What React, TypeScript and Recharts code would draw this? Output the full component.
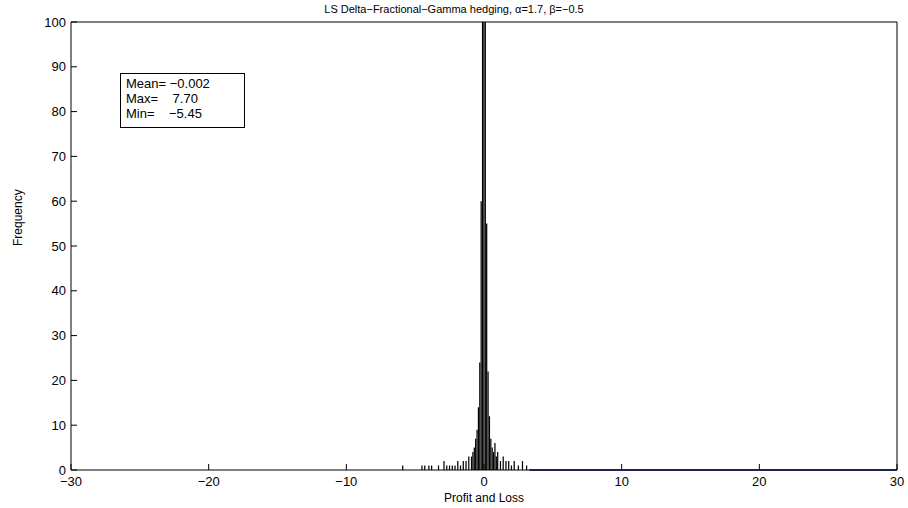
import React from "react";
import { ComposedChart, Bar, XAxis, YAxis, ReferenceLine } from "recharts";

const binCenters = [
  -5.9, -4.5, -4.3, -4.0, -3.8, -3.3, -2.9, -2.7, -2.5, -2.3, -2.1, -1.9, -1.7, -1.5, -1.3, -1.1, -0.9, -0.8,
  -0.7, -0.6, -0.5, -0.4, -0.3, -0.2, -0.1, 0.0, 0.1, 0.2, 0.3, 0.4, 0.5, 0.6, 0.7, 0.8, 0.9, 1.0, 1.2, 1.4,
  1.6, 1.8, 2.0, 2.2, 2.5, 2.8, 3.1,
];
const counts = [
  1, 1, 1, 1, 1, 1, 2, 1, 1, 1, 1, 2, 1, 2, 2, 3, 3, 4,
  5, 7, 9, 14, 24, 60, 130, 160, 120, 55, 22, 12, 7, 5, 4, 6, 3, 4, 2, 3,
  2, 2, 1, 2, 1, 2, 1,
];
const xTicks = [-30, -20, -10, 0, 10, 20, 30];
const yTicks = [0, 10, 20, 30, 40, 50, 60, 70, 80, 90, 100];

const data = binCenters.map((x, i) => ({ x, count: counts[i] }));
const font = "'Liberation Sans', Arial, sans-serif";
const tick = { fill: "#000", fontSize: 13, fontFamily: font };

export default function App() {
  return (
    <div style={{ position: "absolute", left: 0, top: 0, width: 908, height: 508, background: "#fff", fontFamily: font }}>
      <div style={{ position: "absolute", top: 3, width: 908, textAlign: "center", fontSize: 11 }}>
        LS Delta−Fractional−Gamma hedging, α=1.7, β=−0.5
      </div>
      <ComposedChart width={908} height={508} data={data} margin={{ top: 21, right: 10, bottom: 0, left: 0 }}>
        <XAxis
          xAxisId="b" type="number" dataKey="x" domain={[-30, 30]} ticks={xTicks}
          tickFormatter={(v) => String(v).replace("-", "−")}
          stroke="#000" tickSize={-6} tickMargin={13} tick={tick} height={38}
          label={{ value: "Profit and Loss", position: "insideBottom", offset: 6, fill: "#000", fontSize: 12, fontFamily: font }}
        />
        <XAxis xAxisId="t" orientation="top" type="number" dataKey="x" domain={[-30, 30]} ticks={xTicks} stroke="#000" tickSize={-6} tick={false} height={1} />
        <YAxis
          yAxisId="l" type="number" domain={[0, 100]} ticks={yTicks} allowDataOverflow
          stroke="#000" tickSize={-6} tickMargin={11} tick={tick} width={71}
          label={{ value: "Frequency", angle: -90, position: "insideLeft", offset: 18, fill: "#000", fontSize: 12, fontFamily: font }}
        />
        <YAxis yAxisId="r" orientation="right" type="number" domain={[0, 100]} ticks={yTicks} stroke="#000" tickSize={-6} tick={false} width={1} />
        <Bar xAxisId="b" yAxisId="l" dataKey="count" fill="#000" barSize={3} isAnimationActive={false} />
        <ReferenceLine xAxisId="b" yAxisId="l" segment={[{ x: 3.3, y: 0 }, { x: 30, y: 0 }]} stroke="#00008b" strokeWidth={1.5} />
      </ComposedChart>
      <div style={{ position: "absolute", left: 120, top: 73, width: 125, height: 55, border: "1px solid #000", background: "#fff", fontSize: 13, lineHeight: "15px", padding: "2px 0 0 5px", boxSizing: "border-box" }}>
        <div>Mean= −0.002</div>
        <div>Max=&nbsp;&nbsp;&nbsp;&nbsp;7.70</div>
        <div>Min=&nbsp;&nbsp;&nbsp;&nbsp;−5.45</div>
      </div>
    </div>
  );
}
